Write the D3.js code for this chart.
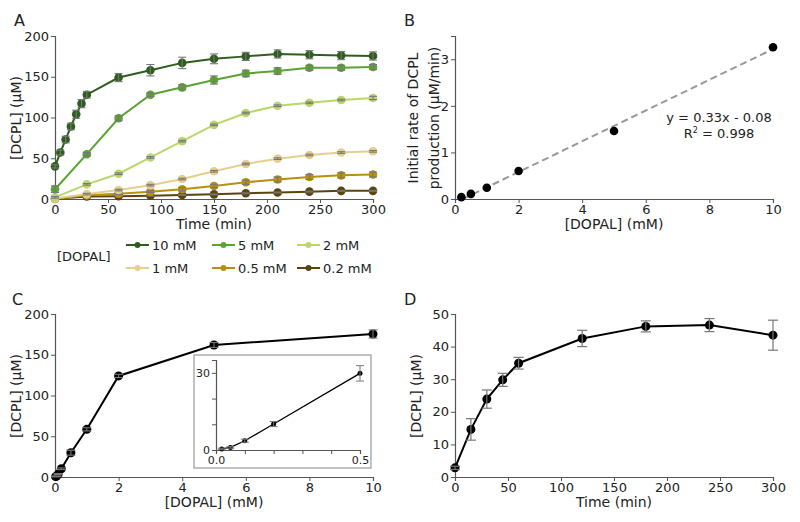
<!DOCTYPE html>
<html><head><meta charset="utf-8">
<script src="https://cdn.jsdelivr.net/npm/d3@7"></script>
<style>
body{margin:0;background:#fff;}
text{font-family:"DejaVu Sans",sans-serif;fill:#222;}
.axis path,.axis line{stroke:#555;}
.axis text{font-size:13px;fill:#222;font-family:"DejaVu Sans",sans-serif;}
</style></head>
<body>
<svg id="fig" width="800" height="522"></svg>
<script>
// ---------- Data ----------
const timesFine = [0,5,10,15,20,25,30,60,90,120,150,180,210,240,270,300];
const timesCoarse = [0,30,60,90,120,150,180,210,240,270,300];
const seriesNames = ["10 mM","5 mM","2 mM","1 mM","0.5 mM","0.2 mM"];
const seriesColors = ["#2e5e1e","#5ba332","#b8d86a","#e6cf8e","#b88f10","#5a4510"];
const dcpl10 = [40,57,73,89,104,117,128,149,158,167,172,175,178,177,176,175.5];
const err10  = [2,3,4,4,5,5,4,5,7,7,6,5,5,5,5,5];
const dcpl5  = [12,55,99,128,137,146,154,157,161,161,162];
const err5   = [4,2,3,2,3,5,4,4,3,3,3];
const dcpl2  = [2,18,31,51,71,91,105.5,114.5,118,121.5,124];
const err2   = [1,1,1,1,1,1,1,1,1,1,2];
const dcpl1  = [0.5,6,11,17,24.5,34,43,49.5,54,57,58.5];
const err1   = [0.5,1,1,1,1,1,1,1,1,1,1];
const dcpl05 = [0.3,4.5,6.5,9,12,16,20.5,24,27,29,30];
const err05  = [0.3,1,1,1,2,2,2.5,3,3,3,3];
const dcpl02 = [0.2,3,3.3,4,5,5.7,7,8,9,10,10];
const err02  = [0.2,0.5,0.5,0.5,0.5,0.5,0.5,0.5,0.5,0.5,0.5];

const rateConc = [0.2,0.5,1,2,5,10];
const rateVal  = [0.04,0.11,0.24,0.6,1.46,3.26];
const rateErr  = [0.01,0.02,0.02,0.03,0.04,0.04];
const fitSlope = 0.33, fitIntercept = -0.08;

const finalConc = [0.02,0.05,0.1,0.2,0.5,1,2,5,10];
const finalDCPL = [0.4,1.0,3.6,10.1,29.8,58.5,124,162,175.5];
const finalErr  = [0.3,0.3,0.6,1,3,2,2,3,5];

const timeD = [0,15,30,45,60,120,180,240,300];
const dcplD = [2.8,14.6,23.9,29.8,34.9,42.5,46.2,46.6,43.5];
const errD  = [0.5,3.3,2.8,2,1.8,2.5,1.7,2,4.6];

const ticksA_x = [0,50,100,150,200,250,300];
const ticksA_y = [0,50,100,150,200];
const ticksB_x = [0,2,4,6,8,10];
const ticksB_y = [0,1,2,3];
const ticksC_y = [0,50,100,150,200];
const ticksD_y = [0,10,20,30,40,50];
const ticksInset_x = [0,0.1,0.2,0.3,0.4,0.5];
const ticksInset_y = [0,10,20,30];

// ---------- Helpers ----------
const svg = d3.select("#fig");
const errColor = "#777";

function axes(g, x, y, xt, yt, xfmt, yfmt, size){
  const ax = g.append("g").attr("class","axis").attr("transform",`translate(0,${y.range()[0]})`)
    .call(d3.axisBottom(x).tickValues(xt).tickFormat(xfmt||d3.format("")).tickSizeOuter(0).tickSize(4).tickPadding(2));
  const ay = g.append("g").attr("class","axis").attr("transform",`translate(${x.range()[0]},0)`)
    .call(d3.axisLeft(y).tickValues(yt).tickFormat(yfmt||d3.format("")).tickSizeOuter(0).tickSize(4).tickPadding(2));
  if(size){ ax.selectAll("text").style("font-size",size+"px"); ay.selectAll("text").style("font-size",size+"px"); }
  [ax,ay].forEach(a=>{a.select(".domain").attr("stroke","#555").attr("stroke-width",1.2);});
  return {ax,ay};
}
function errorBars(g, xs, ys, es, x, y, cap, col, w){
  const d = xs.map((v,i)=>({x:v,y:ys[i],e:es[i]}));
  const eg = g.append("g").attr("stroke",col||errColor).attr("stroke-width",w||1.2).attr("fill","none");
  eg.selectAll(".v").data(d).enter().append("line")
    .attr("x1",p=>x(p.x)).attr("x2",p=>x(p.x)).attr("y1",p=>y(p.y-p.e)).attr("y2",p=>y(p.y+p.e));
  eg.selectAll(".t").data(d).enter().append("line")
    .attr("x1",p=>x(p.x)-cap).attr("x2",p=>x(p.x)+cap).attr("y1",p=>y(p.y+p.e)).attr("y2",p=>y(p.y+p.e));
  eg.selectAll(".b").data(d).enter().append("line")
    .attr("x1",p=>x(p.x)-cap).attr("x2",p=>x(p.x)+cap).attr("y1",p=>y(p.y-p.e)).attr("y2",p=>y(p.y-p.e));
}
function lineDots(g, xs, ys, x, y, col, lw, r){
  const d = xs.map((v,i)=>[v,ys[i]]);
  g.append("path").datum(d).attr("fill","none").attr("stroke",col).attr("stroke-width",lw)
    .attr("d", d3.line().x(p=>x(p[0])).y(p=>y(p[1])));
  g.selectAll(null).data(d).enter().append("circle")
    .attr("cx",p=>x(p[0])).attr("cy",p=>y(p[1])).attr("r",r).attr("fill",col);
}
function panelLetter(t,x,y){ svg.append("text").attr("x",x).attr("y",y).attr("font-size",16).text(t); }

// ---------- Panel A ----------
{
  const g = svg.append("g");
  const x = d3.scaleLinear().domain([0,300]).range([55,373]);
  const y = d3.scaleLinear().domain([0,200]).range([199,36]);
  axes(g,x,y,ticksA_x,ticksA_y);
  const sets = [[timesFine,dcpl10,err10],[timesCoarse,dcpl5,err5],[timesCoarse,dcpl2,err2],
                [timesCoarse,dcpl1,err1],[timesCoarse,dcpl05,err05],[timesCoarse,dcpl02,err02]];
  for(let i=sets.length-1;i>=0;i--){
    const [t,v,e]=sets[i];
    lineDots(g,t,v,x,y,seriesColors[i],2,4.3);
    errorBars(g,t,v,e,x,y,4,errColor,1.1);
  }
  g.append("text").attr("x",214).attr("y",229).attr("text-anchor","middle").attr("font-size",14).text("Time (min)");
  g.append("text").attr("transform","translate(21,118) rotate(-90)").attr("text-anchor","middle").attr("font-size",14).text("[DCPL] (μM)");
  panelLetter("A",14,26);
  // legend
  g.append("text").attr("x",57).attr("y",261).attr("font-size",13).text("[DOPAL]");
  const cols=[126,212,297], rows=[245,268];
  seriesNames.forEach((n,i)=>{
    const lx=cols[i%3], ly=rows[Math.floor(i/3)];
    g.append("line").attr("x1",lx).attr("x2",lx+23).attr("y1",ly).attr("y2",ly).attr("stroke",seriesColors[i]).attr("stroke-width",2);
    g.append("circle").attr("cx",lx+11.5).attr("cy",ly).attr("r",3).attr("fill",seriesColors[i]);
    g.append("text").attr("x",lx+26).attr("y",ly+5).attr("font-size",13).text(n);
  });
}

// ---------- Panel B ----------
{
  const g = svg.append("g");
  const x = d3.scaleLinear().domain([0,10]).range([455,773]);
  const y = d3.scaleLinear().domain([0,3.5]).range([199,36]);
  axes(g,x,y,ticksB_x,ticksB_y);
  const x0=0.25, x1=10;
  g.append("line").attr("x1",x(x0)).attr("y1",y(fitSlope*x0+fitIntercept))
    .attr("x2",x(x1)).attr("y2",y(fitSlope*x1+fitIntercept))
    .attr("stroke","#999").attr("stroke-width",2).attr("stroke-dasharray","7,4");
  errorBars(g,rateConc,rateVal,rateErr,x,y,3,errColor,1);
  g.selectAll(null).data(rateConc.map((c,i)=>[c,rateVal[i]])).enter().append("circle")
    .attr("cx",p=>x(p[0])).attr("cy",p=>y(p[1])).attr("r",4.3).attr("fill","#000");
  g.append("text").attr("x",719).attr("y",122).attr("text-anchor","middle").attr("font-size",13).text("y = 0.33x - 0.08");
  const r2 = g.append("text").attr("x",719).attr("y",138).attr("text-anchor","middle").attr("font-size",13);
  r2.append("tspan").text("R");
  r2.append("tspan").attr("dy",-5).attr("font-size",8).text("2");
  r2.append("tspan").attr("dy",5).text(" = 0.998");
  g.append("text").attr("x",614).attr("y",229).attr("text-anchor","middle").attr("font-size",14).text("[DOPAL] (mM)");
  g.append("text").attr("transform","translate(418,118) rotate(-90)").attr("text-anchor","middle").attr("font-size",14).text("Initial rate of DCPL");
  g.append("text").attr("transform","translate(439,118) rotate(-90)").attr("text-anchor","middle").attr("font-size",14).text("production (μM/min)");
  panelLetter("B",404,26);
}

// ---------- Panel C ----------
{
  const g = svg.append("g");
  const x = d3.scaleLinear().domain([0,10]).range([55,373]);
  const y = d3.scaleLinear().domain([0,200]).range([477,314]);
  axes(g,x,y,ticksB_x,ticksC_y);
  lineDots(g,finalConc,finalDCPL,x,y,"#000",2,4.5);
  errorBars(g,finalConc,finalDCPL,finalErr,x,y,4.5,errColor,1.1);
  g.append("text").attr("x",214).attr("y",507).attr("text-anchor","middle").attr("font-size",14).text("[DOPAL] (mM)");
  g.append("text").attr("transform","translate(21,396) rotate(-90)").attr("text-anchor","middle").attr("font-size",14).text("[DCPL] (μM)");
  panelLetter("C",12,305);
  // inset
  const ig = svg.append("g");
  ig.append("rect").attr("x",194).attr("y",355).attr("width",177).attr("height",113)
    .attr("fill","#fff").attr("stroke","#999").attr("stroke-width",1.2);
  const xi = d3.scaleLinear().domain([0,0.5]).range([216,360]);
  const yi = d3.scaleLinear().domain([0,35]).range([450,360]);
  axes(ig,xi,yi,ticksInset_x,ticksInset_y,d=>(d===0||d===0.5)?d3.format(".1f")(d):"",d=>(d===0||d===30)?d:"",11);
  lineDots(ig,finalConc.slice(0,5),finalDCPL.slice(0,5),xi,yi,"#000",1.3,2.5);
  errorBars(ig,finalConc.slice(0,5),finalDCPL.slice(0,5),finalErr.slice(0,5),xi,yi,4,errColor,1);
}

// ---------- Panel D ----------
{
  const g = svg.append("g");
  const x = d3.scaleLinear().domain([0,300]).range([455,773]);
  const y = d3.scaleLinear().domain([0,50]).range([477,314]);
  axes(g,x,y,ticksA_x,ticksD_y);
  lineDots(g,timeD,dcplD,x,y,"#000",2,4.5);
  errorBars(g,timeD,dcplD,errD,x,y,5,errColor,1.2);
  g.append("text").attr("x",614).attr("y",507).attr("text-anchor","middle").attr("font-size",14).text("Time (min)");
  g.append("text").attr("transform","translate(421,396) rotate(-90)").attr("text-anchor","middle").attr("font-size",14).text("[DCPL] (μM)");
  panelLetter("D",404,305);
}
</script>
</body></html>
